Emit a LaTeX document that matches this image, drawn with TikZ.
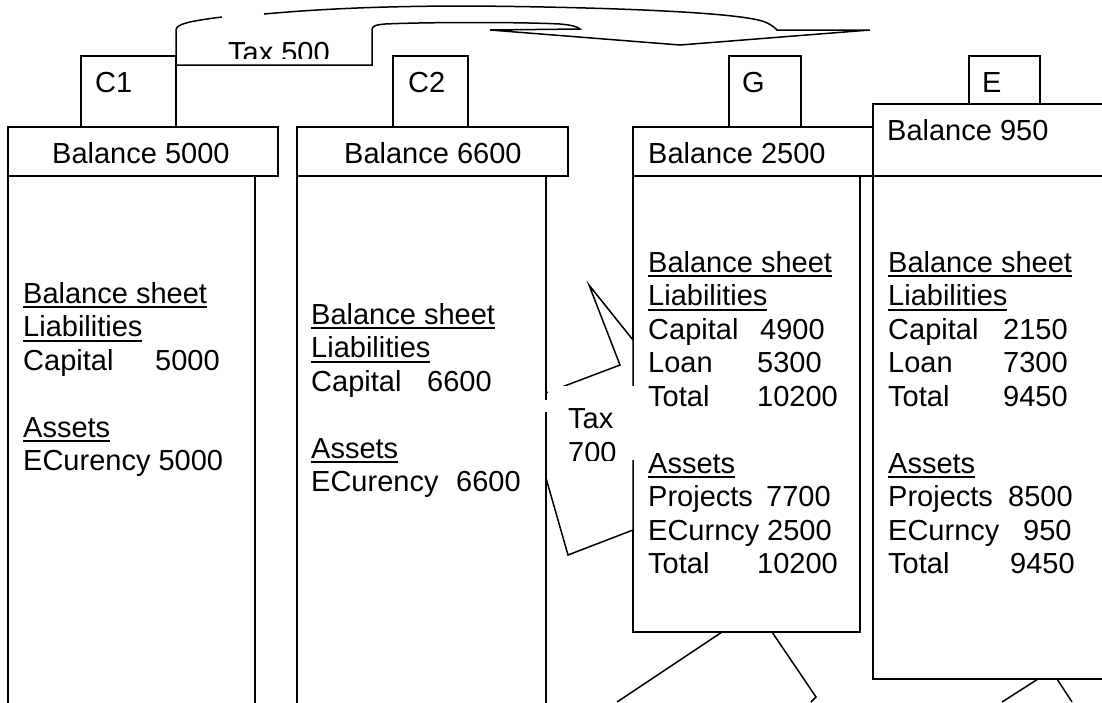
\documentclass[tikz,border=0pt]{standalone}
\usepackage{fontspec}
\setmainfont{Liberation Sans}
\newcommand\myul[1]{\setbox0\hbox{#1}\rlap{\vrule width\wd0 height -3pt depth 5pt}\box0}
\begin{document}
\begin{tikzpicture}[x=1pt,y=-1pt,line join=miter,
  box/.style={draw,line width=2pt,fill=white},
  edge/.style={draw,line width=2pt},
  call/.style={draw,line width=1.5pt},
  lbl/.style={font=\fontsize{29}{33.5}\selectfont,inner sep=0pt,anchor=base west}]
\useasboundingbox (0,0) rectangle (1102,702);
\clip (0,0) rectangle (1102,702);
% ---- C1 ----
\draw[box] (81,56) rectangle (176,127);
\draw[box] (8,127) rectangle (278,176);
\draw[edge] (8,176) -- (8,710);
\draw[edge] (255,176) -- (255,710);
% ---- C2 ----
\draw[box] (393,56) rectangle (468,127);
\draw[box] (297,127) rectangle (568,176);
\draw[edge] (297,176) -- (297,710);
\draw[edge] (546,176) -- (546,710);
% ---- G ----
\draw[box] (729,56) rectangle (801,127);
\draw[box] (633,127) rectangle (873,176);
\draw[box] (633,176) rectangle (860,632);
% ---- E ----
\draw[box] (969,56) rectangle (1040,104);
\draw[box] (873,104) rectangle (1110,176);
\draw[box] (873,176) rectangle (1110,679);
% ---- big curved arrow with Tax 500 ----
\draw[call] (222,17) .. controls (190,21) and (176,24) .. (176,30) -- (176,65) -- (372,65) -- (372,30)
  .. controls (372,26) and (375,25) .. (385,24) .. controls (430,22) and (520,22) .. (560,24)
  .. controls (572,25) and (578,27) .. (580,29) -- (490,30) -- (680,45) -- (870,30) -- (777,30)
  .. controls (775,28) and (772,25) .. (765,22) .. controls (740,12) and (600,7) .. (470,6)
  .. controls (380,6) and (320,9) .. (264,14);
\begin{scope}
  \clip (180,30) rectangle (370,58);
  \node[lbl] (tax5) at (228,62) {Tax 500};
\end{scope}
% ---- Tax 700 callout ----
\draw[call,fill=white] (546,393) -- (620,365) -- (589,285) -- (633,340) -- (633,530) -- (568,555) -- (546,478) -- cycle;
\fill[white] (548,386) rectangle (637,460);
\fill[white] (543,400) rectangle (549,412);
\begin{scope}
  \clip (548,386) rectangle (637,460);
  \node[lbl] (tax7a) at (568,428.5) {Tax};
  \node[lbl] (tax7b) at (568,462) {700};
\end{scope}
% ---- pointers at bottom ----
\draw[call] (722,632) -- (617,702);
\draw[call] (772,632) -- (816,697) -- (811,702);
\draw[call] (1038,679) -- (1002,702);
\draw[call] (1057,679) -- (1072,702);
% ---- tab labels ----
\node[lbl] (c1) at (95,92) {C1};
\node[lbl] (c2) at (408,92) {C2};
\node[lbl] (g) at (742,92) {G};
\node[lbl] (e) at (982,92) {E};
% ---- headers ----
\node[lbl] (h1) at (52,163) {Balance 5000};
\node[lbl] (h2) at (344,163) {Balance 6600};
\node[lbl] (h3) at (648,163) {Balance 2500};
\node[lbl] (h4) at (887,140) {Balance 950};
% ---- C1 body ----
\node[lbl] (a1) at (23,303) {\myul{Balance sheet}};
\node[lbl] (a2) at (23,336.5) {\myul{Liabilities}};
\node[lbl] (a3) at (23,370) {Capital};
\node[lbl] (a3n) at (155,370) {5000};
\node[lbl] (a4) at (23,437) {\myul{Assets}};
\node[lbl] (a5) at (23,470.5) {ECurency 5000};
% ---- C2 body ----
\node[lbl] (b1) at (311,324) {\myul{Balance sheet}};
\node[lbl] (b2) at (311,357.5) {\myul{Liabilities}};
\node[lbl] (b3) at (311,391) {Capital};
\node[lbl] (b3n) at (427,391) {6600};
\node[lbl] (b4) at (311,458) {\myul{Assets}};
\node[lbl] (b5) at (311,491.5) {ECurency};
\node[lbl] (b5n) at (456,491.5) {6600};
% ---- G body ----
\node[lbl] (g1) at (648,272) {\myul{Balance sheet}};
\node[lbl] (g2) at (648,305.5) {\myul{Liabilities}};
\node[lbl] (g3) at (648,339) {Capital};
\node[lbl] (g3n) at (760,339) {4900};
\node[lbl] (g4) at (648,372.5) {Loan};
\node[lbl] (g4n) at (757,372.5) {5300};
\node[lbl] (g5) at (648,406) {Total};
\node[lbl] (g5n) at (757,406) {10200};
\node[lbl] (g6) at (648,473) {\myul{Assets}};
\node[lbl] (g7) at (648,506.5) {Projects};
\node[lbl] (g7n) at (766,506.5) {7700};
\node[lbl] (g8) at (648,540) {ECurncy};
\node[lbl] (g8n) at (767,540) {2500};
\node[lbl] (g9) at (648,573.5) {Total};
\node[lbl] (g9n) at (757,573.5) {10200};
% ---- E body ----
\node[lbl] (e1) at (888,272) {\myul{Balance sheet}};
\node[lbl] (e2) at (888,305.5) {\myul{Liabilities}};
\node[lbl] (e3) at (888,339) {Capital};
\node[lbl] (e3n) at (1003,339) {2150};
\node[lbl] (e4) at (888,372.5) {Loan};
\node[lbl] (e4n) at (1003,372.5) {7300};
\node[lbl] (e5) at (888,406) {Total};
\node[lbl] (e5n) at (1003,406) {9450};
\node[lbl] (e6) at (888,473) {\myul{Assets}};
\node[lbl] (e7) at (888,506.5) {Projects};
\node[lbl] (e7n) at (1008,506.5) {8500};
\node[lbl] (e8) at (888,540) {ECurncy};
\node[lbl] (e8n) at (1023,540) {950};
\node[lbl] (e9) at (888,573.5) {Total};
\node[lbl] (e9n) at (1010,573.5) {9450};
\end{tikzpicture}
\end{document}
